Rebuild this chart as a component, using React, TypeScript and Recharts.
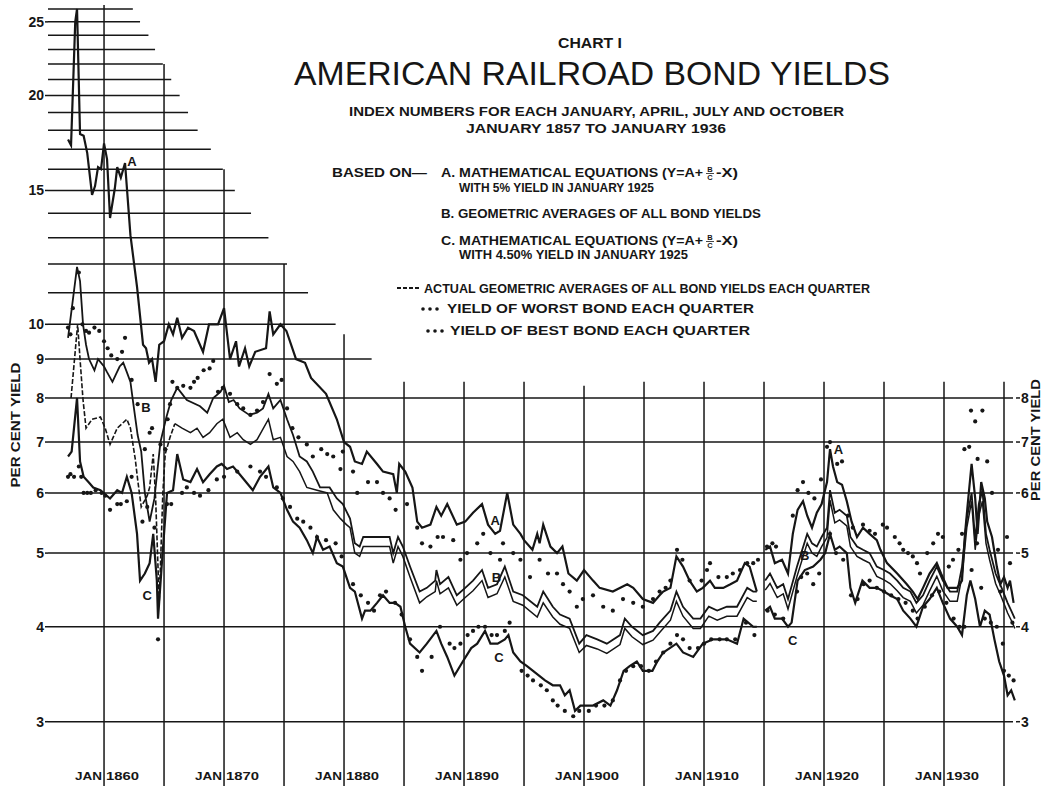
import React from "react";
import { ComposedChart, Line, Scatter, XAxis, YAxis, ReferenceLine, ReferenceDot } from "recharts";

type Pt = [number, number | null];

// ---------------- DATA ----------------
const SERIES_A: Pt[] = [
  [1857.0, 17.5], [1857.25, 17.2], [1857.6, 25.0], [1857.75, 26.0], [1858.0, 17.8], [1858.3, 17.7],
  [1858.6, 16.8], [1859.0, 14.8], [1859.25, 15.2], [1859.5, 16.1], [1859.75, 16.0], [1860.0, 17.3],
  [1860.25, 16.5], [1860.5, 13.8], [1860.9, 15.1], [1861.1, 16.1], [1861.4, 15.6], [1861.75, 16.3],
  [1862.2, 13.1], [1862.75, 11.2], [1863.25, 9.4], [1863.5, 9.3], [1863.75, 8.9], [1864.0, 9.0],
  [1864.3, 8.4], [1864.6, 9.4], [1865.0, 9.5], [1865.4, 10.0], [1865.75, 9.7], [1866.1, 10.2],
  [1866.5, 9.6], [1867.0, 9.9], [1867.5, 9.8], [1868.25, 9.2], [1868.75, 10.0], [1869.5, 10.0],
  [1870.0, 10.5], [1870.5, 9.0], [1871.0, 9.5], [1871.25, 8.8], [1871.75, 9.3], [1872.1, 8.8],
  [1872.6, 9.2], [1873.5, 9.3], [1873.8, 10.4], [1874.1, 9.7], [1874.7, 10.0], [1875.2, 9.8],
  [1876.0, 9.0], [1876.75, 8.9], [1877.25, 8.5], [1878.5, 8.1], [1879.4, 7.5], [1880.0, 7.0],
  [1880.5, 6.9], [1880.9, 6.6], [1881.5, 6.55], [1881.9, 6.8], [1882.75, 6.55], [1883.25, 6.4],
  [1884.1, 6.35], [1884.4, 6.0], [1884.6, 6.55], [1885.1, 6.4], [1885.7, 6.1], [1886.1, 5.5],
  [1886.5, 5.4], [1887.2, 5.45], [1887.7, 5.75], [1888.1, 5.6], [1888.6, 5.8], [1889.4, 5.45],
  [1890.1, 5.5], [1890.75, 5.65], [1891.5, 5.8], [1892.0, 5.45], [1892.6, 5.3], [1893.0, 5.35],
  [1893.6, 6.0], [1894.1, 5.45], [1894.7, 5.3], [1895.0, 5.2], [1895.7, 5.05], [1896.1, 5.3],
  [1896.3, 5.15], [1896.6, 5.45], [1897.2, 5.1], [1897.75, 5.0], [1898.2, 5.1], [1898.7, 4.7],
  [1899.4, 4.6], [1900.0, 4.75], [1900.75, 4.6], [1901.3, 4.5], [1902.4, 4.45], [1903.6, 4.55],
  [1904.1, 4.5], [1904.9, 4.35], [1905.75, 4.3], [1906.3, 4.4], [1906.6, 4.45], [1907.2, 4.5],
  [1907.7, 4.95], [1908.25, 4.8], [1908.8, 4.6], [1909.4, 4.45], [1909.9, 4.5], [1910.5, 4.6],
  [1910.9, 4.5], [1911.6, 4.5], [1912.2, 4.55], [1912.75, 4.6], [1913.4, 4.85], [1913.8, 4.8],
  [1914.4, 4.45], [1914.8, null], [1915.1, 5.05], [1915.5, 5.1], [1915.9, 4.85], [1916.5, 4.9],
  [1917.0, 4.7], [1917.4, 5.3], [1917.8, 5.7], [1918.25, 5.85], [1918.6, 5.6], [1919.0, 5.4],
  [1919.4, 5.65], [1919.8, 5.8], [1920.25, 6.2], [1920.5, 6.85], [1920.75, 6.5], [1921.1, 6.2],
  [1921.5, 6.15], [1921.9, 5.85], [1922.3, 5.5], [1922.75, 5.25], [1923.25, 5.4], [1923.8, 5.3],
  [1924.4, 5.2], [1924.7, 5.05], [1925.25, 4.85], [1926.1, 4.7], [1926.9, 4.55], [1927.4, 4.45],
  [1927.8, 4.35], [1928.25, 4.5], [1928.8, 4.7], [1929.4, 4.85], [1929.75, 4.7], [1930.3, 4.5],
  [1931.1, 4.5], [1931.5, 4.6], [1931.75, 5.3], [1932.0, 5.85], [1932.3, 6.55], [1932.6, 5.9],
  [1932.8, 5.3], [1933.1, 6.2], [1933.4, 5.9], [1933.6, 5.5], [1934.0, 5.25], [1934.4, 4.8],
  [1934.7, 4.55], [1935.0, 4.65], [1935.3, 4.5], [1935.5, 4.6], [1935.8, 4.3],
];

const SERIES_B: Pt[] = [
  [1857.0, 9.6], [1857.75, 11.9], [1858.0, 11.4], [1858.25, 10.0], [1858.5, 9.4], [1858.75, 9.0],
  [1859.2, 8.7], [1859.5, 9.0], [1860.0, 8.8], [1860.25, 8.65], [1860.7, 8.4], [1861.0, 8.6],
  [1861.3, 8.8], [1861.6, 8.9], [1861.9, 8.65], [1862.2, 8.4], [1862.4, 7.95], [1862.8, 7.15],
  [1863.1, 6.8], [1863.4, 6.0], [1863.8, 5.5], [1864.2, 5.9], [1864.7, 7.0], [1865.2, 7.55],
  [1865.6, 7.95], [1866.1, 8.25], [1866.5, 8.1], [1866.9, 7.95], [1868.0, 7.8], [1868.6, 7.65],
  [1869.1, 8.0], [1869.7, 8.15], [1870.0, 8.3], [1870.4, 7.9], [1870.8, 7.95], [1871.3, 7.75],
  [1872.1, 7.6], [1872.75, 7.65], [1873.25, 7.75], [1873.7, 8.1], [1874.1, 7.75], [1874.7, 7.95],
  [1875.25, 7.5], [1875.75, 7.15], [1876.3, 6.7], [1876.9, 6.6], [1877.4, 6.4], [1878.0, 6.1],
  [1878.8, 6.1], [1879.4, 5.9], [1879.9, 5.8], [1880.5, 5.55], [1880.9, 5.15], [1881.3, 5.1],
  [1881.6, 5.25], [1882.2, 5.25], [1883.0, 5.25], [1883.8, 5.25], [1884.1, 5.0], [1884.5, 5.25],
  [1884.9, 5.1], [1885.5, 4.8], [1886.3, 4.45], [1886.9, 4.5], [1887.6, 4.6], [1887.7, 4.75],
  [1888.0, 4.55], [1888.7, 4.65], [1889.4, 4.4], [1890.1, 4.5], [1890.75, 4.6], [1891.5, 4.75],
  [1892.0, 4.5], [1892.75, 4.55], [1893.4, 4.8], [1894.1, 4.45], [1894.9, 4.4], [1896.1, 4.25],
  [1896.6, 4.45], [1897.4, 4.25], [1898.0, 4.15], [1898.8, 4.1], [1899.6, 3.8], [1900.2, 3.9],
  [1901.1, 3.85], [1901.9, 3.8], [1903.0, 3.9], [1903.4, 4.1], [1904.0, 4.0], [1904.9, 3.9],
  [1905.75, 3.95], [1906.3, 4.05], [1907.2, 4.2], [1907.7, 4.45], [1908.25, 4.25], [1909.1, 4.1],
  [1909.7, 4.1], [1910.4, 4.25], [1911.1, 4.2], [1911.9, 4.25], [1912.75, 4.25], [1913.6, 4.5],
  [1914.1, 4.45], [1914.4, 4.45], [1914.8, null], [1915.1, 4.6], [1915.5, 4.7], [1916.1, 4.5],
  [1916.6, 4.55], [1917.0, 4.35], [1917.75, 4.8], [1918.6, 5.3], [1919.0, 5.15], [1919.4, 5.1],
  [1919.8, 5.25], [1920.25, 5.4], [1920.5, 6.05], [1920.9, 5.65], [1921.3, 5.7], [1921.9, 5.6],
  [1922.2, 5.25], [1922.75, 5.1], [1923.25, 5.05], [1923.8, 5.0], [1924.4, 4.8], [1925.0, 4.75],
  [1925.5, 4.7], [1926.1, 4.6], [1926.6, 4.5], [1927.2, 4.45], [1927.7, 4.3], [1928.25, 4.4],
  [1928.8, 4.6], [1929.4, 4.8], [1929.9, 4.6], [1930.5, 4.45], [1931.1, 4.45], [1931.5, 4.8],
  [1931.9, 5.55], [1932.3, 6.0], [1932.6, 5.2], [1932.9, 5.8], [1933.2, 6.05], [1933.5, 5.3],
  [1933.8, 5.05], [1934.3, 4.7], [1934.8, 4.5], [1935.3, 4.3], [1935.6, 4.2], [1935.9, 4.1],
];

const SERIES_ACTUAL: Pt[] = [
  [1857.25, 8.0], [1857.8, 10.0], [1858.0, 9.0], [1858.25, 7.95], [1858.5, 7.3], [1859.0, 7.5],
  [1859.7, 7.55], [1860.1, 7.3], [1860.5, 6.95], [1861.1, 7.3], [1861.5, 7.4], [1861.9, 7.5],
  [1862.2, 7.3], [1862.6, 6.65], [1862.8, 6.25], [1863.1, 5.75], [1863.6, 5.95], [1863.8, 6.1],
  [1864.1, 6.75], [1864.3, 5.9], [1864.6, 4.3], [1864.9, 6.0], [1865.1, 6.75], [1865.5, 7.1],
  [1865.9, 7.4], [1866.5, 7.3], [1867.2, 7.2], [1867.75, 7.3], [1868.25, 7.1], [1868.8, 7.2],
  [1869.4, 7.4], [1869.9, 7.5], [1870.5, 7.1], [1871.1, 7.2], [1871.6, 7.05], [1872.2, 6.95],
  [1872.75, 7.05], [1873.7, 7.5], [1874.1, 7.05], [1874.7, 7.1], [1875.25, 6.7], [1875.75, 6.6],
  [1876.3, 6.4], [1876.9, 6.1], [1877.75, 6.05], [1878.6, 6.0], [1879.1, 5.7], [1879.7, 5.55],
  [1880.2, 5.45], [1880.5, 5.4], [1880.9, 5.0], [1881.3, 4.95], [1881.6, 5.1], [1882.2, 5.1],
  [1883.0, 5.1], [1883.8, 5.1], [1884.1, 4.85], [1884.5, 5.1], [1884.9, 4.95], [1885.5, 4.65],
  [1886.3, 4.3], [1886.9, 4.38], [1887.6, 4.45], [1887.7, 4.6], [1888.0, 4.42], [1888.7, 4.5],
  [1889.4, 4.27], [1890.1, 4.37], [1890.75, 4.46], [1891.5, 4.6], [1892.0, 4.37], [1892.75, 4.42],
  [1893.4, 4.65], [1894.1, 4.32], [1894.9, 4.27], [1896.1, 4.12], [1896.6, 4.3], [1897.4, 4.12],
  [1898.0, 4.03], [1898.8, 3.98], [1899.6, 3.7], [1900.2, 3.78], [1901.1, 3.74], [1901.9, 3.69],
  [1903.0, 3.79], [1903.4, 3.98], [1904.0, 3.88], [1904.9, 3.79], [1905.75, 3.84], [1906.3, 3.93],
  [1907.2, 4.08], [1907.7, 4.32], [1908.25, 4.13], [1909.1, 3.98], [1909.7, 3.98], [1910.4, 4.13],
  [1911.1, 4.08], [1911.9, 4.13], [1912.75, 4.13], [1913.6, 4.37], [1914.1, 4.32], [1914.4, 4.32],
  [1914.8, null], [1915.1, 4.47], [1915.5, 4.56], [1916.1, 4.37], [1916.6, 4.42], [1917.0, 4.22],
  [1917.75, 4.66], [1918.6, 5.15], [1919.0, 5.0], [1919.4, 4.95], [1919.8, 5.1], [1920.25, 5.24],
  [1920.5, 5.87], [1920.9, 5.48], [1921.3, 5.53], [1921.9, 5.43], [1922.2, 5.1], [1922.75, 4.95],
  [1923.25, 4.9], [1923.8, 4.85], [1924.4, 4.66], [1925.0, 4.61], [1925.5, 4.56], [1926.1, 4.46],
  [1926.6, 4.37], [1927.2, 4.32], [1927.7, 4.17], [1928.25, 4.27], [1928.8, 4.46], [1929.4, 4.66],
  [1929.9, 4.46], [1930.5, 4.32], [1931.1, 4.32], [1931.5, 4.66], [1931.9, 5.4], [1932.3, 5.85],
  [1932.6, 5.05], [1932.9, 5.6], [1933.2, 5.85], [1933.5, 5.15], [1933.8, 4.9], [1934.3, 4.56],
  [1934.8, 4.37], [1935.3, 4.17], [1935.6, 4.08], [1935.9, 3.98],
];

const SERIES_C: Pt[] = [
  [1857.0, 6.7], [1857.3, 6.8], [1857.75, 8.0], [1858.0, 6.6], [1858.3, 6.3], [1858.7, 6.2],
  [1859.1, 6.1], [1859.7, 6.05], [1860.5, 5.9], [1861.1, 6.05], [1861.5, 6.0], [1861.9, 6.3],
  [1862.3, 6.0], [1862.75, 5.3], [1863.0, 4.6], [1863.4, 4.7], [1863.8, 4.85], [1864.1, 5.3],
  [1864.4, 4.6], [1864.5, 4.1], [1864.8, 4.8], [1865.25, 6.0], [1865.75, 6.05], [1866.1, 6.75],
  [1866.6, 6.25], [1867.2, 6.2], [1867.75, 6.45], [1868.25, 6.2], [1868.8, 6.35], [1869.4, 6.5],
  [1869.8, 6.55], [1870.25, 6.45], [1870.75, 6.5], [1871.3, 6.35], [1872.4, 6.05], [1873.0, 6.3],
  [1873.7, 6.5], [1874.1, 6.1], [1874.7, 6.0], [1875.25, 5.7], [1875.75, 5.5], [1876.3, 5.4],
  [1876.9, 5.2], [1877.4, 5.0], [1877.75, 5.25], [1878.25, 5.05], [1878.8, 5.1], [1879.4, 4.85],
  [1879.9, 4.8], [1880.5, 4.5], [1880.9, 4.45], [1881.5, 4.1], [1881.75, 4.2], [1882.2, 4.2],
  [1882.75, 4.3], [1883.25, 4.4], [1883.8, 4.3], [1884.25, 4.3], [1884.7, 4.25], [1885.1, 4.0],
  [1885.5, 3.8], [1886.3, 3.7], [1886.9, 3.8], [1887.7, 3.95], [1888.1, 3.8], [1888.6, 3.65],
  [1889.2, 3.45], [1889.9, 3.6], [1890.6, 3.75], [1891.1, 3.8], [1891.75, 3.95], [1892.2, 3.8],
  [1892.8, 3.8], [1893.4, 3.85], [1893.7, 3.9], [1894.1, 3.7], [1894.7, 3.6], [1895.25, 3.55],
  [1895.75, 3.5], [1896.75, 3.4], [1897.4, 3.35], [1898.0, 3.35], [1898.4, 3.25], [1898.8, 3.3],
  [1899.25, 3.1], [1899.7, 3.15], [1900.25, 3.15], [1900.75, 3.15], [1901.6, 3.2], [1902.2, 3.15],
  [1902.75, 3.3], [1903.3, 3.5], [1903.8, 3.55], [1904.4, 3.6], [1904.9, 3.5], [1905.7, 3.5],
  [1906.1, 3.6], [1906.6, 3.7], [1907.7, 3.8], [1908.25, 3.7], [1909.1, 3.65], [1909.9, 3.8],
  [1910.75, 3.85], [1911.9, 3.85], [1912.75, 3.8], [1913.3, 4.1], [1914.1, 4.0], [1914.4, 4.0],
  [1914.8, null], [1915.1, 4.2], [1915.5, 4.25], [1915.9, 4.1], [1916.5, 4.1], [1917.0, 4.0],
  [1917.3, 4.05], [1917.8, 4.6], [1918.4, 4.75], [1919.1, 4.8], [1919.7, 4.9], [1920.1, 5.0],
  [1920.5, 5.3], [1920.9, 5.05], [1921.3, 5.1], [1921.9, 5.0], [1922.2, 4.5], [1922.6, 4.3],
  [1923.2, 4.6], [1923.8, 4.5], [1924.4, 4.5], [1925.0, 4.45], [1925.5, 4.4], [1926.1, 4.35],
  [1926.6, 4.2], [1927.2, 4.1], [1927.7, 4.0], [1928.25, 4.25], [1928.8, 4.35], [1929.4, 4.5],
  [1929.9, 4.3], [1930.5, 4.1], [1931.1, 4.0], [1931.5, 3.9], [1931.9, 4.4], [1932.2, 4.6],
  [1932.6, 4.35], [1933.0, 4.0], [1933.4, 4.2], [1933.8, 4.15], [1934.2, 3.85], [1934.6, 3.6],
  [1935.0, 3.45], [1935.3, 3.25], [1935.6, 3.3], [1935.9, 3.2],
];

const WORST_BOND: Pt[] = [
  [1857.0, 9.9], [1857.2, 9.7], [1857.4, 10.5], [1857.9, 11.7], [1858.2, 10.0], [1858.5, 9.8],
  [1858.75, 9.75], [1859.2, 9.9], [1859.6, 9.8], [1860.0, 9.5], [1860.3, 9.3], [1860.6, 9.1],
  [1861.1, 9.0], [1861.5, 9.2], [1861.75, 9.6], [1862.3, 8.45], [1862.8, 7.85], [1863.4, 6.85],
  [1863.8, 7.2], [1864.0, 7.3], [1864.7, 6.95], [1865.1, 6.85], [1865.3, 7.5], [1865.5, 7.85],
  [1865.7, 8.4], [1866.1, 8.25], [1866.6, 8.3], [1867.2, 8.25], [1867.5, 8.4], [1867.8, 8.5],
  [1868.3, 8.7], [1868.8, 8.75], [1869.1, 8.95], [1869.5, 8.15], [1869.9, 8.25], [1870.5, 8.1],
  [1871.1, 7.85], [1871.6, 7.75], [1872.2, 7.6], [1872.75, 7.7], [1873.25, 7.9], [1873.8, 8.6],
  [1874.4, 8.35], [1874.8, 8.45], [1875.25, 7.75], [1875.7, 7.3], [1876.2, 7.1], [1876.9, 6.95],
  [1877.4, 6.7], [1878.1, 6.85], [1878.6, 6.75], [1879.1, 6.7], [1879.7, 6.45], [1879.9, 6.8],
  [1880.75, 6.4], [1881.1, 6.0], [1882.0, 6.2], [1882.75, 6.2], [1883.25, 6.0], [1883.8, 5.9],
  [1884.3, 5.7], [1885.25, 5.8], [1886.1, 5.4], [1886.5, 5.15], [1887.2, 5.1], [1887.8, 5.25],
  [1888.25, 5.25], [1889.1, 5.2], [1889.7, 4.9], [1890.25, 5.0], [1891.1, 5.15], [1891.6, 5.3],
  [1892.2, 5.0], [1893.0, 4.9], [1893.25, 5.15], [1894.1, 5.0], [1894.7, 4.9], [1895.5, 4.65],
  [1896.3, 4.9], [1897.0, 4.7], [1897.75, 4.7], [1898.25, 4.55], [1898.8, 4.45], [1899.4, 4.25],
  [1899.9, 4.35], [1900.75, 4.4], [1901.6, 4.25], [1902.4, 4.2], [1903.25, 4.35], [1904.1, 4.3],
  [1904.9, 4.25], [1905.75, 4.35], [1906.3, 4.45], [1906.8, 4.5], [1907.2, 4.6], [1907.75, 5.05],
  [1908.2, 4.9], [1908.8, 4.6], [1909.8, 4.6], [1910.25, 4.75], [1910.5, 4.85], [1911.2, 4.65],
  [1911.9, 4.65], [1912.4, 4.7], [1913.0, 4.75], [1913.6, 4.85], [1914.1, 4.85], [1914.5, 4.9],
  [1915.25, 5.1], [1915.7, 5.15], [1916.0, 5.1], [1917.4, 5.6], [1917.8, 6.05], [1918.25, 6.2],
  [1918.7, 6.0], [1919.2, 5.9], [1919.75, 6.25], [1920.25, 6.9], [1920.5, 7.0], [1921.1, 6.55],
  [1921.5, 6.6], [1922.0, 5.6], [1922.4, 5.4], [1923.25, 5.45], [1923.8, 5.35], [1924.25, 5.3],
  [1924.9, 5.45], [1925.25, 5.4], [1925.9, 5.25], [1926.3, 5.15], [1926.6, 5.05], [1927.0, 5.0],
  [1927.4, 4.95], [1927.75, 4.85], [1928.0, 4.7], [1928.6, 5.0], [1929.1, 5.15], [1929.5, 5.3],
  [1929.9, 5.25], [1930.4, 4.8], [1930.75, 4.9], [1931.2, 5.05], [1931.5, 5.3], [1931.7, 6.85],
  [1932.1, 6.9], [1932.25, 7.7], [1932.6, 7.45], [1932.8, 6.65], [1933.2, 7.7], [1933.6, 6.6],
  [1934.0, 6.0], [1934.5, 5.05], [1935.25, 5.25], [1935.5, 4.85],
];

const BEST_BOND: Pt[] = [
  [1857.0, 6.3], [1857.2, 6.35], [1857.5, 6.3], [1857.9, 6.5], [1858.1, 6.3], [1858.3, 6.0],
  [1858.6, 6.0], [1858.9, 6.0], [1859.3, 6.05], [1859.8, 6.0], [1860.1, 5.95], [1860.5, 5.7],
  [1861.1, 5.8], [1861.4, 5.8], [1861.9, 5.85], [1862.3, 6.3], [1863.2, 5.5], [1863.6, 5.75],
  [1864.2, 5.4], [1864.5, 3.85], [1865.25, 5.8], [1865.6, 5.8], [1866.5, 6.0], [1866.9, 6.1],
  [1867.5, 6.0], [1868.0, 5.95], [1868.7, 6.05], [1869.4, 6.25], [1870.0, 6.3], [1871.1, 6.4],
  [1872.2, 6.5], [1873.0, 6.4], [1873.5, 6.3], [1874.4, 6.1], [1874.9, 5.9], [1875.5, 5.75],
  [1876.1, 5.55], [1876.6, 5.5], [1877.2, 5.4], [1877.75, 5.25], [1878.5, 5.2], [1879.3, 5.15],
  [1879.8, 4.95], [1880.75, 4.55], [1881.4, 4.4], [1882.0, 4.3], [1882.5, 4.2], [1883.0, 4.4],
  [1883.5, 4.45], [1884.25, 4.3], [1884.8, 4.15], [1885.5, 3.85], [1886.1, 3.65], [1886.5, 3.5],
  [1887.3, 3.65], [1888.0, 4.0], [1888.8, 3.8], [1889.2, 3.75], [1889.7, 3.8], [1890.3, 3.9],
  [1890.75, 3.95], [1891.2, 4.0], [1891.75, 4.0], [1892.3, 3.9], [1892.75, 3.9], [1893.4, 3.95],
  [1893.8, 4.05], [1894.8, 3.5], [1895.3, 3.45], [1895.75, 3.4], [1896.4, 3.35], [1896.9, 3.3],
  [1897.4, 3.2], [1897.8, 3.15], [1898.4, 3.1], [1899.1, 3.05], [1899.6, 3.1], [1900.4, 3.1],
  [1901.0, 3.15], [1901.7, 3.15], [1902.4, 3.2], [1903.0, 3.4], [1903.5, 3.5], [1904.1, 3.55],
  [1904.75, 3.55], [1905.4, 3.5], [1906.0, 3.6], [1906.6, 3.7], [1907.2, 3.8], [1907.75, 3.9],
  [1908.25, 3.85], [1908.8, 3.75], [1909.5, 3.75], [1910.0, 3.8], [1910.6, 3.85], [1911.3, 3.85],
  [1911.9, 3.85], [1912.6, 3.85], [1913.5, 4.05], [1914.2, 3.9], [1915.3, 4.2], [1915.9, 4.15],
  [1916.6, 4.1], [1917.75, 4.45], [1918.1, 4.65], [1918.6, 4.7], [1919.1, 4.55], [1919.6, 4.7],
  [1920.5, 5.3], [1921.0, 5.0], [1921.6, 4.9], [1922.25, 4.4], [1922.8, 4.35], [1923.3, 4.55],
  [1923.8, 4.6], [1924.4, 4.5], [1925.0, 4.45], [1925.6, 4.4], [1926.2, 4.35], [1926.8, 4.3],
  [1927.4, 4.2], [1927.8, 4.1], [1928.4, 4.25], [1929.0, 4.4], [1929.6, 4.45], [1930.2, 4.3],
  [1930.8, 4.1], [1931.3, 4.0], [1931.7, 4.0], [1932.3, 4.75], [1932.75, 5.15], [1933.1, 4.5],
  [1933.4, 4.1], [1933.9, 4.05], [1934.4, 4.0], [1934.7, 4.45], [1934.9, 3.8], [1935.0, 3.5],
  [1935.4, 3.45], [1935.7, 4.05], [1935.8, 3.4],
];

const LEFT_TICKS = [3, 4, 5, 6, 7, 8, 9, 10, 15, 20, 25];
const RIGHT_TICKS = [3, 4, 5, 6, 7, 8];
const DECADES = [1860, 1870, 1880, 1890, 1900, 1910, 1920, 1930];
const CURVE_LABELS: [string, number, number][] = [
  ["A", 1862.33, 16.4], ["B", 1863.5, 7.78], ["C", 1863.6, 4.4],
  ["A", 1892.6, 5.53], ["B", 1892.7, 4.65], ["C", 1892.9, 3.65],
  ["A", 1921.2, 6.86], ["B", 1918.4, 4.97], ["C", 1917.4, 3.84],
];

// ---------------- LAYOUT (grid structure, not data) ----------------
const X_DOMAIN: [number, number] = [1855.33, 1936];
const Y_DOMAIN: [number, number] = [2.469, 26.31];
const GRID_END = 1935.75;
const H_LINES: [number, number][] = [
  [3, GRID_END], [4, GRID_END], [5, GRID_END], [6, GRID_END], [7, GRID_END], [8, GRID_END],
  [9, 1882.3], [10, 1879.3], [11, 1877.0], [12, 1875.25], [13, 1873.7], [14, 1872.25],
  [15, 1870.9], [16, 1869.9], [17, 1868.9], [18, 1867.8], [19, 1867.0], [20, 1866.3],
  [21, 1865.6], [22, 1864.9], [23, 1864.25], [24, 1863.7], [25, 1863.0], [26, 1862.4],
];
const V_LINES: [number, number][] = [
  [1860, 26.31], [1865, 22], [1870, 16], [1875, 12], [1880, 9.7], [1885, 8.4], [1890, 8.4],
  [1895, 8.4], [1900, 8.3], [1905, 8.4], [1910, 8.4], [1915, 8.4], [1920, 8.4], [1925, 8.4],
  [1930, 8.4], [1935, 8.4],
];

const INK = "#161616";
const FONT = "'Liberation Sans', Arial, Helvetica, sans-serif";

const toData = (arr: Pt[]) => arr.map(([t, v]) => ({ t, v }));

const DecadeTick = (props: any) => {
  const { x, payload } = props;
  return (
    <g>
      <text x={x - 2} y={780} textAnchor="end" fontFamily={FONT} fontWeight={700} fontSize={11.5} fill={INK} textLength={27} lengthAdjust="spacingAndGlyphs">JAN</text>
      <text x={x + 2} y={780} textAnchor="start" fontFamily={FONT} fontWeight={700} fontSize={11.5} fill={INK} textLength={33} lengthAdjust="spacingAndGlyphs">{payload.value}</text>
    </g>
  );
};

const Dot = (props: any) => {
  const { cx, cy } = props;
  if (cx == null || cy == null) return null;
  return <circle cx={cx} cy={cy} r={2.1} fill={INK} />;
};

type TP = { x: number; y: number; w: number; size: number; bold?: boolean; anchor?: string; children: React.ReactNode };
const T = ({ x, y, w, size, bold, anchor, children }: TP) => (
  <text x={x} y={y} fontSize={size} fontFamily={FONT} fontWeight={bold ? 700 : 400} fill={INK}
    textAnchor={anchor || "start"} textLength={w} lengthAdjust="spacingAndGlyphs">{children}</text>
);

const Fraction = ({ x, y }: { x: number; y: number }) => (
  <g>
    <text x={x} y={y - 5} fontSize={7.5} fontFamily={FONT} fontWeight={700} fill={INK} textAnchor="middle">B</text>
    <line x1={x - 4} x2={x + 4} y1={y - 3.5} y2={y - 3.5} stroke={INK} strokeWidth={0.8} />
    <text x={x} y={y + 3} fontSize={7.5} fontFamily={FONT} fontWeight={700} fill={INK} textAnchor="middle">C</text>
  </g>
);

const Overlay = () => (
  <svg width={1043} height={787} style={{ position: "absolute", left: 0, top: 0, pointerEvents: "none" }}>
    <T x={558} y={48} w={64} size={14.5} bold>CHART I</T>
    <T x={294} y={85} w={596} size={34}>AMERICAN  RAILROAD  BOND  YIELDS</T>
    <T x={349} y={116} w={495} size={13.5} bold>INDEX NUMBERS FOR EACH JANUARY, APRIL, JULY AND OCTOBER</T>
    <T x={466} y={133} w={260} size={13.5} bold>JANUARY 1857 TO JANUARY 1936</T>

    <T x={332} y={177} w={95} size={12.5} bold>BASED ON—</T>
    <T x={441} y={177} w={262} size={12.5} bold>A. MATHEMATICAL EQUATIONS (Y=A+</T>
    <Fraction x={710} y={177} />
    <T x={716} y={177} w={22} size={12.5} bold>-X)</T>
    <T x={459} y={192} w={195} size={12.5} bold>WITH 5% YIELD IN JANUARY 1925</T>
    <T x={441} y={218} w={320} size={12.5} bold>B. GEOMETRIC AVERAGES OF ALL BOND YIELDS</T>
    <T x={441} y={245} w={262} size={12.5} bold>C. MATHEMATICAL EQUATIONS (Y=A+</T>
    <Fraction x={710} y={245} />
    <T x={716} y={245} w={22} size={12.5} bold>-X)</T>
    <T x={459} y={259} w={229} size={12.5} bold>WITH 4.50% YIELD IN JANUARY 1925</T>

    <line x1={397} x2={419} y1={288} y2={288} stroke={INK} strokeWidth={2.2} strokeDasharray="4 2" />
    <T x={424} y={293} w={446} size={12.5} bold>ACTUAL GEOMETRIC AVERAGES OF ALL BOND YIELDS EACH QUARTER</T>
    {[423, 430, 437].map((cx) => <circle key={cx} cx={cx} cy={309} r={1.8} fill={INK} />)}
    <T x={447} y={313} w={307} size={12.5} bold>YIELD OF WORST BOND EACH QUARTER</T>
    {[428, 435, 442].map((cx) => <circle key={cx} cx={cx} cy={331} r={1.8} fill={INK} />)}
    <T x={450} y={335} w={300} size={12.5} bold>YIELD OF BEST BOND EACH QUARTER</T>

    <text transform="translate(20,425) rotate(-90)" textAnchor="middle" fontFamily={FONT} fontWeight={700} fontSize={12.5} fill={INK} textLength={125} lengthAdjust="spacingAndGlyphs">PER CENT YIELD</text>
    <text transform="translate(1040,440) rotate(-90)" textAnchor="middle" fontFamily={FONT} fontWeight={700} fontSize={12} fill={INK} textLength={122} lengthAdjust="spacingAndGlyphs">PER CENT YIELD</text>
  </svg>
);

export default function App() {
  const a = toData(SERIES_A);
  const b = toData(SERIES_B);
  const act = toData(SERIES_ACTUAL);
  const actEarly = act.filter((d) => d.t <= 1865.9);
  const actLate = act.filter((d) => d.t >= 1865.9);
  const c = toData(SERIES_C);
  const worst = toData(WORST_BOND);
  const best = toData(BEST_BOND);

  return (
    <div style={{ position: "absolute", left: 0, top: 0, width: 1043, height: 787, background: "#fff" }}>
      <ComposedChart width={1043} height={787} margin={{ top: 5, right: 0, bottom: 0, left: 0 }}>
        <XAxis dataKey="t" type="number" domain={X_DOMAIN} allowDataOverflow ticks={DECADES} interval={0}
          height={1} axisLine={false} tickLine={false} tick={<DecadeTick />} />
        <YAxis dataKey="v" type="number" scale="log" domain={Y_DOMAIN} allowDataOverflow ticks={LEFT_TICKS}
          interval={0} width={48} axisLine={false} tickSize={3} tickMargin={1}
          tickLine={{ stroke: INK, strokeWidth: 1.5 }}
          tick={{ fill: INK, fontSize: 14, fontWeight: 700, fontFamily: FONT }} />
        <YAxis yAxisId="r" orientation="right" dataKey="v" type="number" scale="log" domain={Y_DOMAIN}
          allowDataOverflow ticks={RIGHT_TICKS} interval={0} width={27} axisLine={false} tickSize={4} tickMargin={1}
          tickLine={{ stroke: INK, strokeWidth: 1.5 }}
          tick={{ fill: INK, fontSize: 14, fontWeight: 700, fontFamily: FONT }} />

        {H_LINES.map(([v, end]) => (
          <ReferenceLine key={"h" + v} segment={[{ x: X_DOMAIN[0], y: v }, { x: end, y: v }]}
            stroke={INK} strokeWidth={1.5} ifOverflow="visible" />
        ))}
        {V_LINES.map(([yr, top]) => (
          <ReferenceLine key={"v" + yr} segment={[{ x: yr, y: top }, { x: yr, y: Y_DOMAIN[0] }]}
            stroke={INK} strokeWidth={1.5} ifOverflow="visible" />
        ))}

        <Line data={a} dataKey="v" type="linear" stroke={INK} strokeWidth={2.2} dot={false} isAnimationActive={false} />
        <Line data={b} dataKey="v" type="linear" stroke={INK} strokeWidth={1.8} dot={false} isAnimationActive={false} />
        <Line data={actEarly} dataKey="v" type="linear" stroke={INK} strokeWidth={1.6} strokeDasharray="5 2" dot={false} isAnimationActive={false} />
        <Line data={actLate} dataKey="v" type="linear" stroke={INK} strokeWidth={1.5} dot={false} isAnimationActive={false} />
        <Line data={c} dataKey="v" type="linear" stroke={INK} strokeWidth={2.2} dot={false} isAnimationActive={false} />
        <Scatter data={worst} fill={INK} shape={<Dot />} isAnimationActive={false} />
        <Scatter data={best} fill={INK} shape={<Dot />} isAnimationActive={false} />

        {CURVE_LABELS.map(([lab, yr, v], i) => (
          <ReferenceDot key={"lab" + i} x={yr} y={v} r={0} ifOverflow="visible"
            shape={(p: any) => (
              <text x={p.cx} y={p.cy + 5} textAnchor="middle" fontFamily={FONT} fontWeight={700} fontSize={13} fill={INK}>{lab}</text>
            )} />
        ))}
      </ComposedChart>
      <Overlay />
    </div>
  );
}
